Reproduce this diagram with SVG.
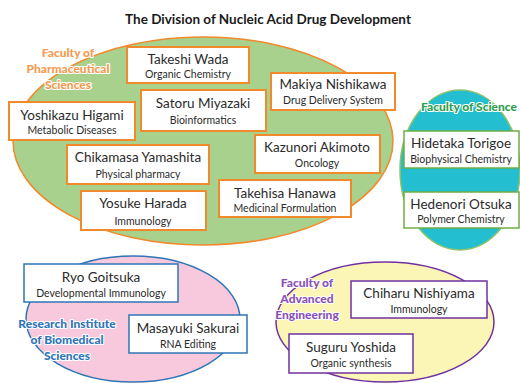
<svg xmlns="http://www.w3.org/2000/svg" width="520" height="383" viewBox="0 0 520 383">
<style>
text{font-family:Lato,"Liberation Sans",sans-serif;text-anchor:middle;fill:#2b2b2b}
.title{font-weight:bold;font-size:13.5px;fill:#1a1a1a}
.nm{font-size:13.5px}
.sb{font-size:10.5px}
.lab{font-weight:900;font-size:12px;stroke:#fff;stroke-width:2.2;paint-order:stroke;stroke-linejoin:round}
.ob{fill:#fff;stroke:#f08a2c;stroke-width:2}
.gb{fill:#fff;stroke:#70ad47;stroke-width:1.5}
.bb{fill:#fff;stroke:#2e75b6;stroke-width:1.5}
.pb{fill:#fff;stroke:#7030a0;stroke-width:1.5}
</style>
<rect width="520" height="383" fill="#fff"/>
<text class="title" x="268" y="24">The Division of Nucleic Acid Drug Development</text>
<g id="regions">
<ellipse cx="203" cy="141" rx="190" ry="104" fill="#a9d18e" stroke="#f08a2c" stroke-width="1.5"/>
<ellipse cx="460" cy="170" rx="60" ry="80" fill="#23bfd0" stroke="#8fc26a" stroke-width="1.5"/>
<ellipse cx="133" cy="319" rx="107" ry="63" fill="#f8c9dd" stroke="#2e75b6" stroke-width="1.5"/>
<ellipse cx="385" cy="322" rx="109" ry="60" fill="#fcf6b6" stroke="#7030a0" stroke-width="1.5"/>
</g>
<g id="labels">
<text class="lab" style="fill:#f39b52"><tspan x="68" y="57">Faculty of</tspan><tspan x="68" y="73">Pharmaceutical</tspan><tspan x="68" y="89">Sciences</tspan></text>
<text class="lab" style="fill:#2e9e4f" x="469" y="111">Faculty of Science</text>
<text class="lab" style="fill:#2e75b6"><tspan x="67" y="328">Research Institute</tspan><tspan x="67" y="344">of Biomedical</tspan><tspan x="67" y="360">Sciences</tspan></text>
<text class="lab" style="fill:#8a52b8"><tspan x="307" y="287">Faculty of</tspan><tspan x="307" y="303">Advanced</tspan><tspan x="307" y="319">Engineering</tspan></text>
</g>
<g id="n-wada"><rect class="ob" x="127" y="47" width="122" height="36"/><text class="nm" x="188" y="64">Takeshi Wada</text><text class="sb" x="188" y="78">Organic Chemistry</text></g>
<g id="n-miyazaki"><rect class="ob" x="141" y="90" width="125" height="41"/><text class="nm" x="203" y="108">Satoru Miyazaki</text><text class="sb" x="203" y="124">Bioinformatics</text></g>
<g id="n-nishikawa"><rect class="ob" x="271" y="73" width="124" height="37"/><text class="nm" x="333" y="89">Makiya Nishikawa</text><text class="sb" x="333" y="104">Drug Delivery System</text></g>
<g id="n-higami"><rect class="ob" x="9" y="102" width="126" height="38"/><text class="nm" x="72" y="120">Yoshikazu Higami</text><text class="sb" x="72" y="134">Metabolic Diseases</text></g>
<g id="n-akimoto"><rect class="ob" x="255" y="135" width="125" height="38"/><text class="nm" x="317" y="152">Kazunori Akimoto</text><text class="sb" x="317" y="167">Oncology</text></g>
<g id="n-yamashita"><rect class="ob" x="67" y="145" width="142" height="39"/><text class="nm" x="138" y="162">Chikamasa Yamashita</text><text class="sb" x="138" y="178">Physical pharmacy</text></g>
<g id="n-harada"><rect class="ob" x="81" y="191" width="125" height="39"/><text class="nm" x="143" y="208">Yosuke Harada</text><text class="sb" x="143" y="225">Immunology</text></g>
<g id="n-hanawa"><rect class="ob" x="219" y="180" width="132" height="37"/><text class="nm" x="285" y="198">Takehisa Hanawa</text><text class="sb" x="285" y="212">Medicinal Formulation</text></g>
<g id="n-torigoe"><rect class="gb" x="404" y="131" width="115" height="37"/><text class="nm" x="461" y="148">Hidetaka Torigoe</text><text class="sb" x="461" y="163">Biophysical Chemistry</text></g>
<g id="n-otsuka"><rect class="gb" x="404" y="192" width="115" height="36"/><text class="nm" x="461" y="209">Hedenori Otsuka</text><text class="sb" x="461" y="223">Polymer Chemistry</text></g>
<g id="n-goitsuka"><rect class="bb" x="24" y="264" width="154" height="38"/><text class="nm" x="101" y="282">Ryo Goitsuka</text><text class="sb" x="101" y="297">Developmental Immunology</text></g>
<g id="n-sakurai"><rect class="bb" x="129" y="315" width="118" height="38"/><text class="nm" x="188" y="333">Masayuki Sakurai</text><text class="sb" x="188" y="348">RNA Editing</text></g>
<g id="n-nishiyama"><rect class="pb" x="351" y="281" width="136" height="37"/><text class="nm" x="419" y="298">Chiharu Nishiyama</text><text class="sb" x="419" y="313">Immunology</text></g>
<g id="n-yoshida"><rect class="pb" x="289" y="334" width="124" height="39"/><text class="nm" x="351" y="352">Suguru Yoshida</text><text class="sb" x="351" y="367">Organic synthesis</text></g>
<g id="connectors"></g>
</svg>
